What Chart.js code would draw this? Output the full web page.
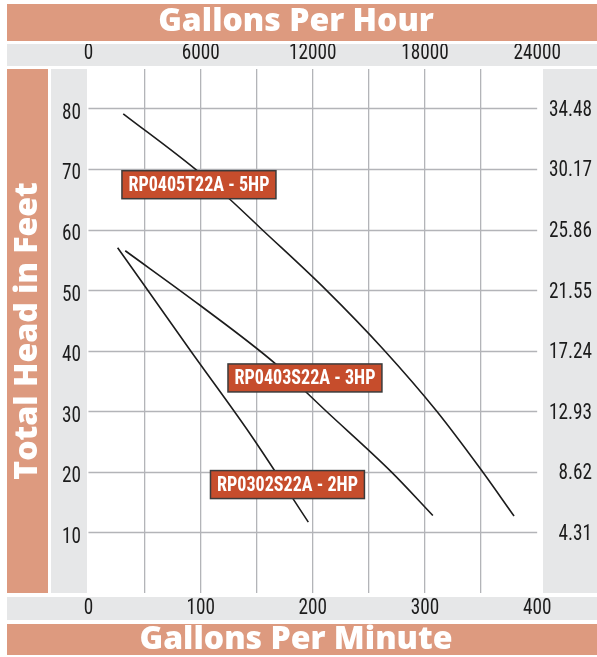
<!DOCTYPE html>
<html>
<head>
<meta charset="utf-8">
<script src="https://cdn.jsdelivr.net/npm/chart.js@4/dist/chart.umd.min.js"></script>
<style>
  html, body { margin: 0; padding: 0; background: #ffffff; }
  #wrap { width: 597px; height: 657px; }
</style>
</head>
<body>
<div id="wrap"><canvas id="c" width="597" height="657"></canvas></div>
<script>
// ---------- data ----------
const gpm5HP = [31, 95, 126, 153, 212, 263, 310.5, 349.4, 379.4];
const ft5HP  = [79.1, 70, 65, 60.3, 50, 40.2, 30, 20.5, 12.7];
const gpm3HP = [32.8, 99.4, 166.3, 212, 270, 307];
const ft3HP  = [56.5, 47.5, 37.9, 30, 20, 12.8];
const gpm2HP = [26, 91, 144, 196];
const ft2HP  = [57, 40, 26.3, 11.7];

const seriesNames = ['RP0405T22A - 5HP', 'RP0403S22A - 3HP', 'RP0302S22A - 2HP'];
const labelGpm = [98.5, 193, 177.4];
const labelFt  = [67.4, 35.5, 17.9];

const gpmTicks = [0, 100, 200, 300, 400];
const gpmTickLabels = ['0', '100', '200', '300', '400'];
const gphTickLabels = ['0', '6000', '12000', '18000', '24000'];
const gridGpm = [50, 100, 150, 200, 250, 300, 350];
const feetTicks = [10, 20, 30, 40, 50, 60, 70, 80];
const psiTickLabels = ['4.31', '8.62', '12.93', '17.24', '21.55', '25.86', '30.17', '34.48'];

// ---------- styles ----------
const ORANGE = '#dd9a7f';
const GRAY = '#e6e7e8';
const GRID = '#b3b4b8';
const BOX = '#c64d2c';
const TEXT = '#1c1c1c';
const TITLEFONT = "'Open Sans', Lato, sans-serif";
const TICKSIZE = 22;
const BOXSIZE = 21;

// choose an installed narrow face
const mc = document.createElement('canvas').getContext('2d');
function hasFamily(fam) {
  const t = 'mmmmmmmmmmlli10WQ';
  for (const base of ['monospace', 'serif']) {
    mc.font = '100px ' + base; const w0 = mc.measureText(t).width;
    mc.font = "100px '" + fam + "', " + base; const w1 = mc.measureText(t).width;
    if (Math.abs(w0 - w1) > 0.5) return true;
  }
  return false;
}
let NARROW_NAME = 'DejaVu Sans Condensed';
for (const f of ['Liberation Sans Narrow', 'Roboto Condensed', 'Open Sans Condensed', 'DejaVu Sans Condensed']) {
  if (hasFamily(f)) { NARROW_NAME = f; break; }
}
const NARROW = "'" + NARROW_NAME + "', sans-serif";
mc.font = TICKSIZE + 'px ' + NARROW;
const TICK_SQUEEZE = Math.min(1, 38 / mc.measureText('6000').width);
mc.font = 'bold ' + BOXSIZE + 'px ' + NARROW;
const BOX_SQUEEZE = Math.min(1, 141 / mc.measureText(seriesNames[0]).width);

const tickFont = { family: NARROW, size: TICKSIZE };
const titleFont = { family: TITLEFONT, size: 32, weight: '800', lineHeight: 1 };

// narrow face is drawn horizontally condensed around its anchor point
const canvas = document.getElementById('c');
const c2d = canvas.getContext('2d');
const baseFill = CanvasRenderingContext2D.prototype.fillText;
let squeeze = TICK_SQUEEZE;
c2d.fillText = function (t, x, y, mw) {
  if (this.font.indexOf(NARROW_NAME) >= 0 && squeeze < 1) {
    this.save(); this.translate(x, y); this.scale(squeeze, 1);
    baseFill.call(this, t, 0, 0); this.restore();
  } else {
    baseFill.call(this, t, x, y, mw);
  }
};

const toPts = (xs, ys) => xs.map((x, i) => ({ x, y: ys[i] }));

const panels = {
  id: 'panels',
  beforeDraw(chart) {
    const { ctx, chartArea: a, width, height } = chart;
    squeeze = TICK_SQUEEZE;
    ctx.save();
    ctx.fillStyle = ORANGE;
    ctx.fillRect(7, 4, width - 7, 37);
    ctx.fillRect(7, a.top, 41, a.bottom - a.top);
    ctx.fillRect(7, height - 33, width - 7, 31);
    ctx.fillStyle = GRAY;
    ctx.fillRect(7, 44, width - 7, 22);
    ctx.fillRect(7, a.bottom + 4, width - 7, 23);
    ctx.fillRect(51, a.top, a.left - 51, a.bottom - a.top);
    ctx.fillRect(a.right, a.top, width - a.right, a.bottom - a.top);
    ctx.restore();
  },
  beforeDatasetsDraw(chart) {
    const { ctx, scales: { x, y } } = chart;
    ctx.save();
    ctx.strokeStyle = GRID;
    ctx.lineWidth = 1.3;
    const x0 = x.getPixelForValue(0), x1 = x.getPixelForValue(400);
    feetTicks.forEach(v => {
      const py = Math.round(y.getPixelForValue(v)) + 0.5;
      ctx.beginPath(); ctx.moveTo(x0, py); ctx.lineTo(x1, py); ctx.stroke();
    });
    ctx.restore();
  },
  afterDatasetsDraw(chart) {
    const { ctx, scales: { x, y } } = chart;
    ctx.save();
    squeeze = BOX_SQUEEZE;
    ctx.font = 'bold ' + BOXSIZE + 'px ' + NARROW;
    ctx.textAlign = 'center';
    ctx.textBaseline = 'middle';
    seriesNames.forEach((t, i) => {
      const cx = x.getPixelForValue(labelGpm[i]);
      const cy = y.getPixelForValue(labelFt[i]);
      const w = ctx.measureText(t).width * BOX_SQUEEZE + 13;
      const h = 28;
      ctx.fillStyle = BOX;
      ctx.fillRect(cx - w / 2, cy - h / 2, w, h);
      ctx.strokeStyle = '#3b3b3b';
      ctx.lineWidth = 1.5;
      ctx.strokeRect(cx - w / 2, cy - h / 2, w, h);
      ctx.fillStyle = '#ffffff';
      ctx.fillText(t, cx, cy + 1);
    });
    squeeze = TICK_SQUEEZE;
    ctx.restore();
  }
};

const lineDs = (label, pts) => ({
  label, data: pts, showLine: true, fill: false,
  borderColor: '#1c1c1c', borderWidth: 1.6, pointRadius: 0,
  cubicInterpolationMode: 'monotone'
});

new Chart(canvas, {
  type: 'scatter',
  data: {
    datasets: [
      lineDs(seriesNames[0], toPts(gpm5HP, ft5HP)),
      lineDs(seriesNames[1], toPts(gpm3HP, ft3HP)),
      lineDs(seriesNames[2], toPts(gpm2HP, ft2HP))
    ]
  },
  options: {
    responsive: false,
    animation: false,
    devicePixelRatio: 1,
    layout: { padding: { left: 0, top: 0, bottom: 0, right: 5 } },
    plugins: {
      legend: { display: false },
      tooltip: { enabled: false },
      title: {
        display: true, text: 'Gallons Per Hour', color: '#ffffff', font: titleFont,
        position: 'top', padding: { top: 6, bottom: 6 }
      },
      subtitle: {
        display: true, text: 'Gallons Per Minute', color: '#ffffff', font: titleFont,
        position: 'bottom', padding: { top: 4, bottom: 1 }
      }
    },
    scales: {
      x: {
        type: 'linear', position: 'bottom', min: -1.3, max: 405.2,
        afterBuildTicks: s => { s.ticks = [0, ...gridGpm, 400].map(v => ({ value: v })); },
        afterFit: s => { s.height = 27; },
        grid: {
          drawTicks: false, lineWidth: 1.3,
          color: c => (gridGpm.includes(c.tick && c.tick.value) ? GRID : 'rgba(0,0,0,0)')
        },
        border: { display: false },
        ticks: {
          autoSkip: false, maxRotation: 0, padding: 2, color: TEXT, font: tickFont,
          callback: v => { const i = gpmTicks.indexOf(v); return i >= 0 ? gpmTickLabels[i] : ''; }
        }
      },
      x2: {
        type: 'linear', position: 'top', min: -1.3, max: 405.2,
        afterBuildTicks: s => { s.ticks = gpmTicks.map(v => ({ value: v })); },
        afterFit: s => { s.height = 25; },
        grid: { display: false, drawTicks: false },
        border: { display: false },
        ticks: {
          autoSkip: false, maxRotation: 0, padding: 2, color: TEXT, font: tickFont,
          callback: v => { const i = gpmTicks.indexOf(v); return i >= 0 ? gphTickLabels[i] : ''; }
        }
      },
      y: {
        type: 'linear', position: 'left', min: 0, max: 86.5,
        afterBuildTicks: s => { s.ticks = feetTicks.map(v => ({ value: v })); },
        afterFit: s => { s.width = 87; },
        grid: { display: false, drawTicks: false },
        border: { display: false },
        ticks: {
          autoSkip: false, padding: 6, color: TEXT, labelOffset: 5, font: tickFont,
          callback: v => String(v)
        },
        title: {
          display: true, text: 'Total Head in Feet', color: '#ffffff', font: titleFont,
          padding: { top: 12, bottom: 0 }
        }
      },
      y2: {
        type: 'linear', position: 'right', min: 0, max: 86.5,
        afterBuildTicks: s => { s.ticks = feetTicks.map(v => ({ value: v })); },
        afterFit: s => { s.width = 49; },
        grid: { display: false, drawTicks: false },
        border: { display: false },
        ticks: {
          autoSkip: false, padding: 2, color: TEXT, crossAlign: 'far', labelOffset: 2,
          font: tickFont,
          callback: v => { const i = feetTicks.indexOf(v); return i >= 0 ? psiTickLabels[i] : ''; }
        }
      }
    }
  },
  plugins: [panels]
});
</script>
</body>
</html>
